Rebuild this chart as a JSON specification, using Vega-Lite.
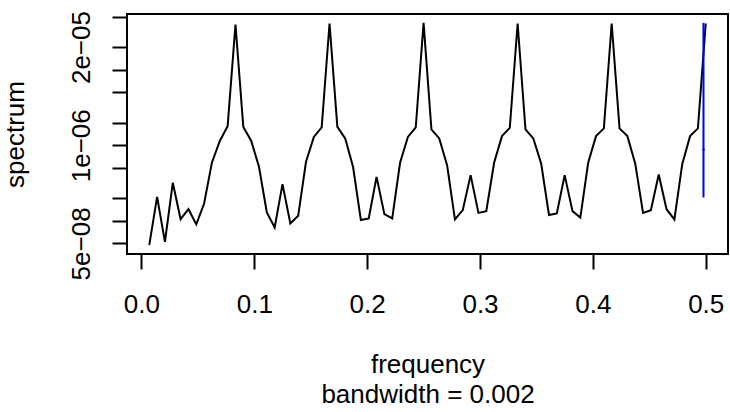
{
  "$schema": "https://vega.github.io/schema/vega-lite/v6.json",
  "autosize": "none",
  "width": 601,
  "height": 240,
  "padding": {"left": 127, "top": 14, "right": 2, "bottom": 158},
  "background": "white",
  "config": {
    "view": {"stroke": "black", "strokeWidth": 2},
    "axis": {"grid": false, "domain": false, "tickColor": "black", "tickWidth": 2, "tickSize": 15,
      "labelColor": "black", "titleColor": "black", "labelFont": "Liberation Sans", "titleFont": "Liberation Sans",
      "labelFontSize": 26, "titleFontSize": 26, "titleFontWeight": "normal", "labelFlush": false, "labelOverlap": false}
  },
  "datasets": {
    "spec": [
      {"freq": 0.006944, "spectrum": 4.75e-08},
      {"freq": 0.013889, "spectrum": 2.07e-07},
      {"freq": 0.020833, "spectrum": 5.25e-08},
      {"freq": 0.027778, "spectrum": 3.18e-07},
      {"freq": 0.034722, "spectrum": 1.05e-07},
      {"freq": 0.041667, "spectrum": 1.42e-07},
      {"freq": 0.048611, "spectrum": 8.93e-08},
      {"freq": 0.055556, "spectrum": 1.69e-07},
      {"freq": 0.0625, "spectrum": 5.92e-07},
      {"freq": 0.069444, "spectrum": 1.14e-06},
      {"freq": 0.076389, "spectrum": 1.79e-06},
      {"freq": 0.083333, "spectrum": 3.98e-05},
      {"freq": 0.090278, "spectrum": 1.75e-06},
      {"freq": 0.097222, "spectrum": 1.15e-06},
      {"freq": 0.104167, "spectrum": 5.18e-07},
      {"freq": 0.111111, "spectrum": 1.29e-07},
      {"freq": 0.118056, "spectrum": 8.15e-08},
      {"freq": 0.125, "spectrum": 3.05e-07},
      {"freq": 0.131944, "spectrum": 9.2e-08},
      {"freq": 0.138889, "spectrum": 1.16e-07},
      {"freq": 0.145833, "spectrum": 6.03e-07},
      {"freq": 0.152778, "spectrum": 1.29e-06},
      {"freq": 0.159722, "spectrum": 1.72e-06},
      {"freq": 0.166667, "spectrum": 4.1e-05},
      {"freq": 0.173611, "spectrum": 1.75e-06},
      {"freq": 0.180556, "spectrum": 1.23e-06},
      {"freq": 0.1875, "spectrum": 5.18e-07},
      {"freq": 0.194444, "spectrum": 1.02e-07},
      {"freq": 0.201389, "spectrum": 1.07e-07},
      {"freq": 0.208333, "spectrum": 3.81e-07},
      {"freq": 0.215278, "spectrum": 1.22e-07},
      {"freq": 0.222222, "spectrum": 1.07e-07},
      {"freq": 0.229167, "spectrum": 5.85e-07},
      {"freq": 0.236111, "spectrum": 1.29e-06},
      {"freq": 0.243056, "spectrum": 1.72e-06},
      {"freq": 0.25, "spectrum": 4.18e-05},
      {"freq": 0.256944, "spectrum": 1.62e-06},
      {"freq": 0.263889, "spectrum": 1.23e-06},
      {"freq": 0.270833, "spectrum": 5.45e-07},
      {"freq": 0.277778, "spectrum": 1.04e-07},
      {"freq": 0.284722, "spectrum": 1.38e-07},
      {"freq": 0.291667, "spectrum": 4.02e-07},
      {"freq": 0.298611, "spectrum": 1.27e-07},
      {"freq": 0.305556, "spectrum": 1.34e-07},
      {"freq": 0.3125, "spectrum": 5.85e-07},
      {"freq": 0.319444, "spectrum": 1.32e-06},
      {"freq": 0.326389, "spectrum": 1.7e-06},
      {"freq": 0.333333, "spectrum": 4.1e-05},
      {"freq": 0.340278, "spectrum": 1.62e-06},
      {"freq": 0.347222, "spectrum": 1.23e-06},
      {"freq": 0.354167, "spectrum": 5.74e-07},
      {"freq": 0.361111, "spectrum": 1.19e-07},
      {"freq": 0.368056, "spectrum": 1.25e-07},
      {"freq": 0.375, "spectrum": 4.02e-07},
      {"freq": 0.381944, "spectrum": 1.34e-07},
      {"freq": 0.388889, "spectrum": 1.1e-07},
      {"freq": 0.395833, "spectrum": 5.85e-07},
      {"freq": 0.402778, "spectrum": 1.32e-06},
      {"freq": 0.409722, "spectrum": 1.67e-06},
      {"freq": 0.416667, "spectrum": 4.1e-05},
      {"freq": 0.423611, "spectrum": 1.67e-06},
      {"freq": 0.430556, "spectrum": 1.32e-06},
      {"freq": 0.4375, "spectrum": 5.74e-07},
      {"freq": 0.444444, "spectrum": 1.27e-07},
      {"freq": 0.451389, "spectrum": 1.38e-07},
      {"freq": 0.458333, "spectrum": 4.1e-07},
      {"freq": 0.465278, "spectrum": 1.42e-07},
      {"freq": 0.472222, "spectrum": 1.04e-07},
      {"freq": 0.479167, "spectrum": 5.61e-07},
      {"freq": 0.486111, "spectrum": 1.32e-06},
      {"freq": 0.493056, "spectrum": 1.67e-06},
      {"freq": 0.5, "spectrum": 4.1e-05}
    ],
    "ci": [
      {"x": 0.498, "x1": 0.497, "x2": 0.499, "lo": 2.03e-07, "hi": 4.18e-05, "mid": 8.77e-07}
    ]
  },
  "layer": [
    {
      "data": {"name": "spec"},
      "mark": {"type": "line", "color": "black", "strokeWidth": 2, "clip": true},
      "encoding": {
        "x": {"field": "freq", "type": "quantitative",
          "scale": {"domain": [-0.012778, 0.519722], "nice": false, "zero": false},
          "axis": {"values": [0, 0.1, 0.2, 0.3, 0.4, 0.5], "format": ".1f",
            "labelBaseline": "alphabetic", "labelPadding": 43,
            "title": ["frequency", "bandwidth = 0.002"], "titleBaseline": "alphabetic",
            "titleY": 118, "titleX": 300.5, "titleAlign": "center", "titleLineHeight": 30}},
        "y": {"field": "spectrum", "type": "quantitative",
          "scale": {"type": "log", "domain": [3.62e-08, 5.48e-05], "nice": false, "zero": false},
          "axis": {"values": [5e-08, 1e-07, 2e-07, 5e-07, 1e-06, 2e-06, 5e-06, 1e-05, 2e-05, 5e-05],
            "labelExpr": "datum.value > 4e-8 && datum.value < 6e-8 ? '5e\u221208' : datum.value > 9e-7 && datum.value < 1.1e-6 ? '1e\u221206' : datum.value > 1.9e-5 && datum.value < 2.1e-5 ? '2e\u221205' : ''",
            "labelAngle": -90, "labelAlign": "center", "labelBaseline": "alphabetic", "labelPadding": 23,
            "title": "spectrum", "titleAngle": -90, "titleAlign": "center", "titleBaseline": "alphabetic",
            "titleX": -104, "titleY": 120}}
      }
    },
    {
      "data": {"name": "ci"},
      "mark": {"type": "rule", "color": "#0000FF", "strokeWidth": 2},
      "encoding": {
        "x": {"field": "x", "type": "quantitative"},
        "y": {"field": "lo", "type": "quantitative"},
        "y2": {"field": "hi"}
      }
    },
    {
      "data": {"name": "ci"},
      "mark": {"type": "rule", "color": "#0000FF", "strokeWidth": 2},
      "encoding": {
        "x": {"field": "x1", "type": "quantitative"},
        "x2": {"field": "x2"},
        "y": {"field": "mid", "type": "quantitative"}
      }
    }
  ]
}
